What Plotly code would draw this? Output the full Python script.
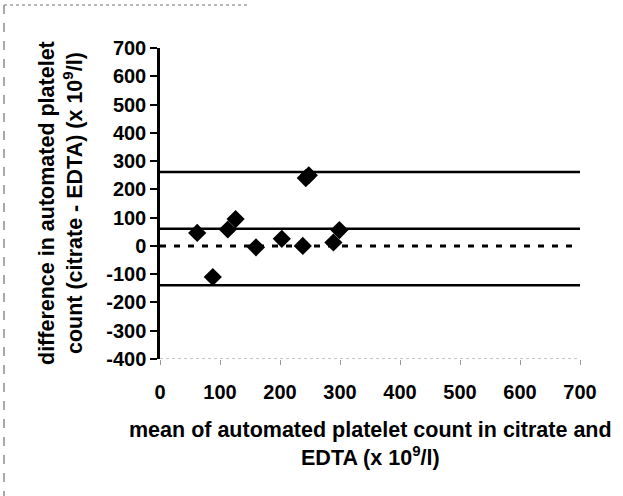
import plotly.graph_objects as go

# Bland-Altman data: mean of citrate and EDTA counts vs. their difference (x 10^9/l)
mean_count = [62, 88, 113, 126, 160, 203, 238, 243, 248, 289, 299]
difference = [46, -110, 58, 95, -5, 25, 0, 240, 250, 12, 56]

bias = 61
upper_limit = 261
lower_limit = -139

x_ticks = [0, 100, 200, 300, 400, 500, 600, 700]
y_ticks = [700, 600, 500, 400, 300, 200, 100, 0, -100, -200, -300, -400]

W, H = 623, 496
L, R, T, B = 160, 43, 48, 137
plot_w = W - L - R
plot_h = H - T - B

def px_to_paper(px, py):
    return (px - L) / plot_w, (H - B - py) / plot_h

font_family = "Liberation Sans, Arial, sans-serif"
tick_font = dict(family=font_family, size=20, color="black", weight="bold")
title_font = dict(family=font_family, size=21.5, color="black", weight="bold")

fig = go.Figure()

fig.add_trace(go.Scatter(
    x=mean_count, y=difference, mode="markers",
    marker=dict(symbol="diamond", size=14, color="black"),
    showlegend=False, cliponaxis=False,
))

# bias and limits of agreement
for level in (upper_limit, bias, lower_limit):
    fig.add_hline(y=level, line=dict(color="black", width=2.5))
fig.add_hline(y=0, line=dict(color="black", width=3, dash="6px,8px"))

# faint bottom axis line
fig.add_shape(type="line", xref="paper", yref="y", x0=0, x1=1, y0=-400, y1=-400,
              line=dict(color="#888888", width=1, dash="dot"))

# frame remnants around the chart
fig.add_shape(type="line", xref="paper", yref="paper",
              x0=px_to_paper(4, 0)[0], x1=px_to_paper(4, 0)[0],
              y0=px_to_paper(0, 5)[1], y1=px_to_paper(0, 496)[1],
              line=dict(color="#555555", width=1, dash="dash"))
fig.add_shape(type="line", xref="paper", yref="paper",
              x0=px_to_paper(4, 0)[0], x1=px_to_paper(250, 0)[0],
              y0=px_to_paper(0, 5)[1], y1=px_to_paper(0, 5)[1],
              line=dict(color="#777777", width=1, dash="dot"))

ax, ay = px_to_paper(61, 203)
fig.add_annotation(
    text="difference in automated platelet<br>count (citrate - EDTA) (x 10<sup>9</sup>/l)",
    xref="paper", yref="paper", x=ax, y=ay, textangle=-90, showarrow=False,
    font=title_font, xanchor="center", yanchor="middle",
)
bx, by = px_to_paper(370, 444)
fig.add_annotation(
    text="mean of automated platelet count in citrate and<br>EDTA (x 10<sup>9</sup>/l)",
    xref="paper", yref="paper", x=bx, y=by, showarrow=False,
    font=title_font, xanchor="center", yanchor="middle",
)

fig.update_layout(
    width=W, height=H,
    margin=dict(l=L, r=R, t=T, b=B),
    paper_bgcolor="white", plot_bgcolor="white",
    font=dict(family=font_family, size=20, color="black"),
)
fig.update_xaxes(
    range=[0, 700], tickvals=x_ticks, ticktext=[str(v) for v in x_ticks],
    showgrid=False, zeroline=False, showline=False,
    ticks="outside", ticklen=5, tickcolor="#999999", tickwidth=1,
    ticklabelstandoff=10, tickfont=tick_font,
)
fig.update_yaxes(
    range=[-400, 700], tickvals=y_ticks, ticktext=[str(v) for v in y_ticks],
    showgrid=False, zeroline=False, showline=True, linecolor="black", linewidth=2.5,
    ticks="outside", ticklen=7, tickcolor="black", tickwidth=2,
    tickfont=tick_font,
)

fig.write_html("out.html")
